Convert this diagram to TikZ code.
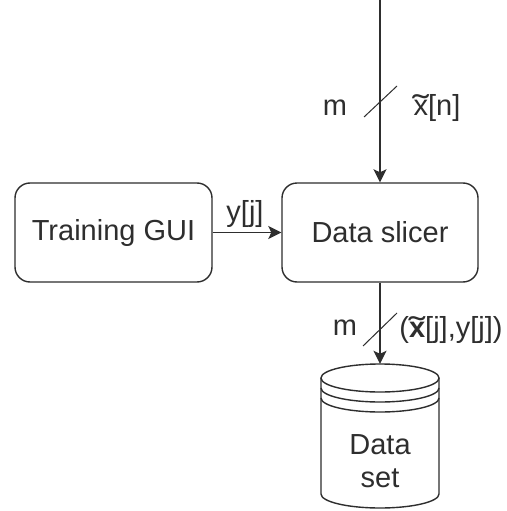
\documentclass[tikz,border=0pt]{standalone}
\usepackage{fontspec}
\usepackage{graphicx}
\setmainfont{Liberation Sans}
\usetikzlibrary{arrows.meta}
\definecolor{ink}{HTML}{2E2E2E}
% letter with a wide tilde set above it
\newcommand\tilx[1]{\leavevmode\setbox0\hbox{#1}%
  \rlap{\hbox to \wd0{\hss\raisebox{-0.06em}{\scalebox{1.7}[1.1]{\char"02DC}}\hss}}\box0}
\begin{document}
\begin{tikzpicture}[x=1pt,y=-1pt,
  font=\fontsize{29}{33}\selectfont, text=ink,
  blockbox/.style={draw=ink, line width=1.4pt, rounded corners=15pt, inner sep=0pt},
  flow/.style={draw=ink, line width=1.4pt, -{Stealth[length=13pt,width=13pt,inset=3pt]}},
  bus/.style={draw=ink, line width=1pt},
  lbl/.style={inner sep=0pt}]
  \fill[white] (0,0) rectangle (506,511);
  \useasboundingbox (0,0) rectangle (506,511);

  % blocks
  \node[blockbox, minimum width=197pt, minimum height=99pt] (gui) at (113.5,232.5) {Training GUI};
  \node[blockbox, minimum width=196pt, minimum height=99pt] (slicer) at (380,232.5) {Data slicer};

  % data store (cylinder)
  \node[inner sep=0pt, minimum width=118pt, minimum height=145pt] (ds) at (380,436.5) {};
  \draw[ink, line width=1.4pt]
    (321,378) -- (321,494) arc[start angle=180, end angle=360, x radius=59pt, y radius=14pt]
    -- (439,378);
  \draw[ink, line width=1.4pt] (380,378) ellipse [x radius=59pt, y radius=14pt];
  \draw[ink, line width=1.4pt] (321,388) arc[start angle=180, end angle=360, x radius=59pt, y radius=14pt];
  \draw[ink, line width=1.4pt] (321,398) arc[start angle=180, end angle=360, x radius=59pt, y radius=14pt];
  \node[lbl, align=center] (dslabel) at (380,461) {Data\\set};

  % connectors
  \coordinate (src) at (380,0);
  \draw[flow] (src) -- (slicer.north);
  \draw[flow] (gui.east) -- (slicer.west);
  \draw[flow] (slicer.south) -- (ds.north);

  % bus width marks
  \draw[bus] (364,117) -- (397,86);
  \draw[bus] (363,346) -- (397,313);

  % labels
  \node[lbl] (mtop) at (335,107.5) {m};
  \node[lbl] (xn) at (437,108) {\tilx{x}[n]};
  \node[lbl] (yj) at (245,214.5) {y[j]};
  \node[lbl] (mbot) at (345,328) {m};
  \node[lbl] (pair) at (451,330) {(\tilx{\bfseries x}[j],y[j])};
\end{tikzpicture}
\end{document}
